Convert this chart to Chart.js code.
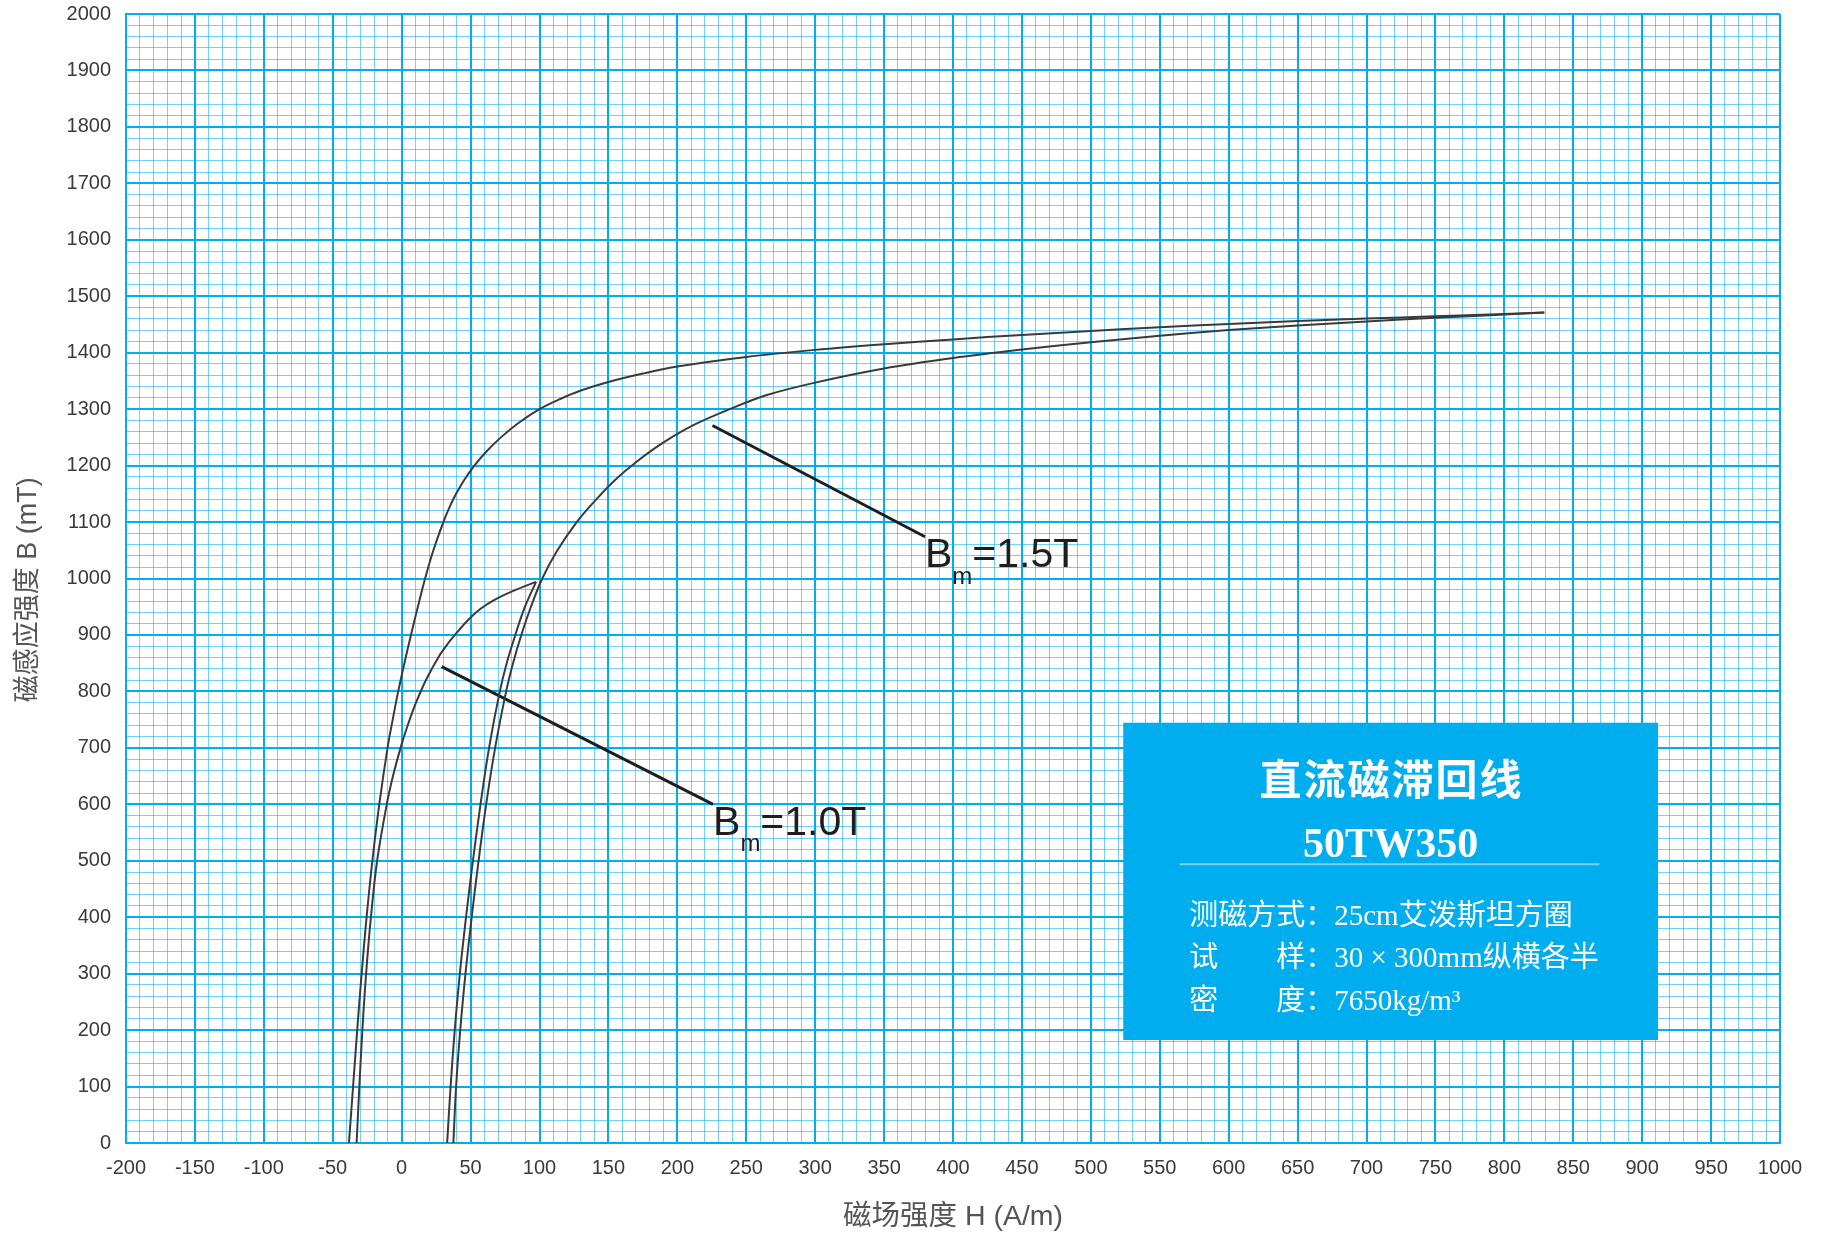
<!DOCTYPE html>
<html>
<head>
<meta charset="utf-8">
<script src="https://cdn.jsdelivr.net/npm/chart.js@4.4.1/dist/chart.umd.min.js"></script>
<style>
  html, body { margin: 0; padding: 0; background: #fff; }
  #c { display: block; }
</style>
</head>
<body>
<canvas id="c" width="1827" height="1241"></canvas>
<script>
// Bm = 1.5T loop, descending branch (tip -> B=0)
const h15Down = [829, 750, 700, 650, 600, 550, 500, 450, 400, 350, 300, 250, 200, 175, 150, 130, 115, 100, 84.5, 72, 61.5, 52.75, 45.5, 39.5, 34.5, 30.25, 23, 17, 11.75, 6.75, 2, -2.5, -6.5, -10.25, -16.25, -21.25, -25.45, -29.05, -32.25, -35.25, -38.25];
const b15Down = [1471, 1464.5, 1460.5, 1456, 1451, 1445, 1438.5, 1431.5, 1423.5, 1415, 1405, 1392.5, 1375.5, 1363, 1348, 1333, 1318, 1300, 1275, 1250, 1225, 1200, 1175, 1150, 1125, 1100, 1050, 1000, 950, 900, 850, 800, 750, 700, 600, 500, 400, 300, 200, 100, 0];
// Bm = 1.5T loop, ascending branch (B=0 -> tip)
const h15Up = [37.5, 39.5, 42.5, 46.3, 50.8, 55.8, 61.3, 67.8, 75.8, 80.8, 86.8, 93.8, 102, 113, 127, 140, 155, 170, 190, 212, 238, 265, 300, 350, 400, 450, 500, 550, 600, 650, 700, 750, 829];
const b15Up = [0, 100, 200, 300, 400, 500, 600, 700, 800, 850, 900, 950, 1000, 1050, 1100, 1137, 1175, 1206, 1241, 1272, 1300, 1325, 1347, 1372, 1390.5, 1405.5, 1418.5, 1430, 1440, 1448.3, 1455.3, 1461.8, 1471];
// Bm = 1.0T loop
const h10Down = [97.5, 81, 68, 57, 48, 40, 33, 27, 18, 10.4, 4.4, -0.8, -6.3, -10.8, -17.8, -22.3, -25.8, -28.5, -30.7, -32.7];
const b10Down = [994, 978, 963, 946, 926, 904, 883, 862, 822, 780, 740, 700, 650, 600, 500, 400, 300, 200, 100, 0];
const h10Up = [33, 35.5, 38.5, 42.2, 46.7, 51.7, 57.2, 63.4, 71.2, 76.2, 82.45, 89.45, 97.5];
const b10Up = [0, 100, 200, 300, 400, 500, 600, 700, 800, 850, 900, 950, 994];

// leader lines for the labels
const lead15H = [225.5, 379.7];
const lead15B = [1271, 1074];
const lead10H = [29, 225.9];
const lead10B = [844, 600];
const labelText = ["=1.5T", "=1.0T"];

// info box corners (H, B)
const boxH = [523.5, 911.5];
const boxB = [182.5, 744.5];
const boxTitle = "直流磁滞回线";
const boxGrade = "50TW350";
const boxLines = ["测磁方式：25cm艾泼斯坦方圈", "试　　样：30 × 300mm纵横各半", "密　　度：7650kg/m³"];

const MAJOR = "#00aeef";
const MINOR = "rgba(0,174,239,0.55)";
const CURVE = "#3a3a3a";

const pts = (hs, bs) => hs.map((h, i) => ({ x: h, y: bs[i] }));
const curve = (hs, bs) => ({
  data: pts(hs, bs),
  borderColor: CURVE,
  borderWidth: 2,
  tension: 0.35,
  pointRadius: 0,
  fill: false,
});
const leader = (hs, bs) => ({
  data: pts(hs, bs),
  borderColor: "#1e1e1e",
  borderWidth: 3,
  tension: 0,
  pointRadius: 0,
  fill: false,
});

const isMajor = (v, step) => Math.abs(Math.round(v)) % step === 0;

const infoPlugin = {
  id: "info",
  afterDatasetsDraw(chart) {
    const { ctx, scales: { x, y } } = chart;
    ctx.save();

    // Bm labels at the end of each leader
    const anchors = [
      [x.getPixelForValue(lead15H[1]), y.getPixelForValue(lead15B[1])],
      [x.getPixelForValue(lead10H[1]), y.getPixelForValue(lead10B[1])],
    ];
    ctx.fillStyle = "#1e1e1e";
    ctx.textBaseline = "alphabetic";
    ctx.textAlign = "left";
    anchors.forEach(([ax, ay], i) => {
      ctx.font = "41px 'Liberation Sans', Arial, sans-serif";
      ctx.fillText("B", ax, ay + 30.6);
      let cx = ax + ctx.measureText("B").width;
      ctx.font = "24px 'Liberation Sans', Arial, sans-serif";
      ctx.fillText("m", cx, ay + 47);
      cx += ctx.measureText("m").width;
      ctx.font = "41px 'Liberation Sans', Arial, sans-serif";
      ctx.fillText(labelText[i], cx, ay + 30.6);
    });

    // info box
    const left = x.getPixelForValue(boxH[0]);
    const right = x.getPixelForValue(boxH[1]);
    const top = y.getPixelForValue(boxB[1]);
    const bottom = y.getPixelForValue(boxB[0]);
    const mid = (left + right) / 2;
    ctx.fillStyle = "#00aeef";
    ctx.fillRect(left, top, right - left, bottom - top);

    ctx.fillStyle = "#fff";
    ctx.textAlign = "center";
    ctx.font = "bold 42px 'Noto Sans CJK SC', sans-serif";
    ctx.letterSpacing = "2px";
    ctx.textBaseline = "middle";
    ctx.fillText(boxTitle, mid + 1, top + 56);
    ctx.letterSpacing = "0px";
    ctx.textBaseline = "alphabetic";
    ctx.font = "bold 42px 'Liberation Serif', 'Times New Roman', serif";
    ctx.fillText(boxGrade, mid, top + 134);

    ctx.strokeStyle = "rgba(255,255,255,0.45)";
    ctx.lineWidth = 2;
    ctx.beginPath();
    ctx.moveTo(left + 56.5, top + 141.6);
    ctx.lineTo(right - 58.5, top + 141.6);
    ctx.stroke();

    ctx.textAlign = "left";
    ctx.font = "29px 'Liberation Serif', 'Noto Sans CJK SC', serif";
    boxLines.forEach((t, i) => {
      ctx.fillText(t, left + 66, top + 202 + i * 42.5);
    });
    ctx.restore();
  },
};

new Chart(document.getElementById("c"), {
  type: "line",
  data: {
    datasets: [
      curve(h15Down, b15Down),
      curve(h15Up, b15Up),
      curve(h10Down, b10Down),
      curve(h10Up, b10Up),
      leader(lead15H, lead15B),
      leader(lead10H, lead10B),
    ],
  },
  options: {
    responsive: false,
    animation: false,
    devicePixelRatio: 1,
    layout: { padding: { top: 14, right: 47, bottom: 0, left: 0 } },
    plugins: { legend: { display: false }, tooltip: { enabled: false } },
    scales: {
      x: {
        type: "linear",
        min: -200,
        max: 1000,
        afterFit: (s) => {
          s.height = 98;
          s.paddingLeft = 0;
          s.paddingRight = 0;
        },
        grid: {
          drawTicks: false,
          color: (c) => (c.tick && isMajor(c.tick.value, 50) ? MAJOR : MINOR),
          lineWidth: (c) => (c.tick && isMajor(c.tick.value, 50) ? 2 : 1),
        },
        border: { color: MAJOR, width: 2 },
        ticks: {
          stepSize: 10,
          autoSkip: false,
          maxRotation: 0,
          padding: 13,
          color: "#3a3a3a",
          font: { family: "'Liberation Sans', Arial, sans-serif", size: 20 },
          callback: (v) => (isMajor(v, 50) ? String(v) : ""),
        },
        title: {
          display: true,
          text: "磁场强度 H (A/m)",
          color: "#555",
          font: { family: "'Liberation Sans', 'Noto Sans CJK SC', sans-serif", size: 28.5 },
          padding: { top: 0, bottom: 6.5 },
        },
      },
      y: {
        type: "linear",
        min: 0,
        max: 2000,
        afterFit: (s) => {
          s.width = 126;
          s.paddingTop = 0;
          s.paddingBottom = 0;
        },
        grid: {
          drawTicks: false,
          color: (c) => (c.tick && isMajor(c.tick.value, 100) ? MAJOR : MINOR),
          lineWidth: (c) => (c.tick && isMajor(c.tick.value, 100) ? 2 : 1),
        },
        border: { color: MAJOR, width: 2 },
        ticks: {
          stepSize: 20,
          autoSkip: false,
          padding: 15,
          color: "#3a3a3a",
          font: { family: "'Liberation Sans', Arial, sans-serif", size: 20 },
          callback: (v) => (isMajor(v, 100) ? String(v) : ""),
        },
        title: {
          display: true,
          // trailing spaces nudge the rotated title a little lower, as in the original
          text: "磁感应强度 B (mT)   ",
          color: "#555",
          font: { family: "'Liberation Sans', 'Noto Sans CJK SC', sans-serif", size: 27 },
          padding: { top: 12.8, bottom: 0 },
        },
      },
    },
  },
  plugins: [infoPlugin],
});
</script>
</body>
</html>
